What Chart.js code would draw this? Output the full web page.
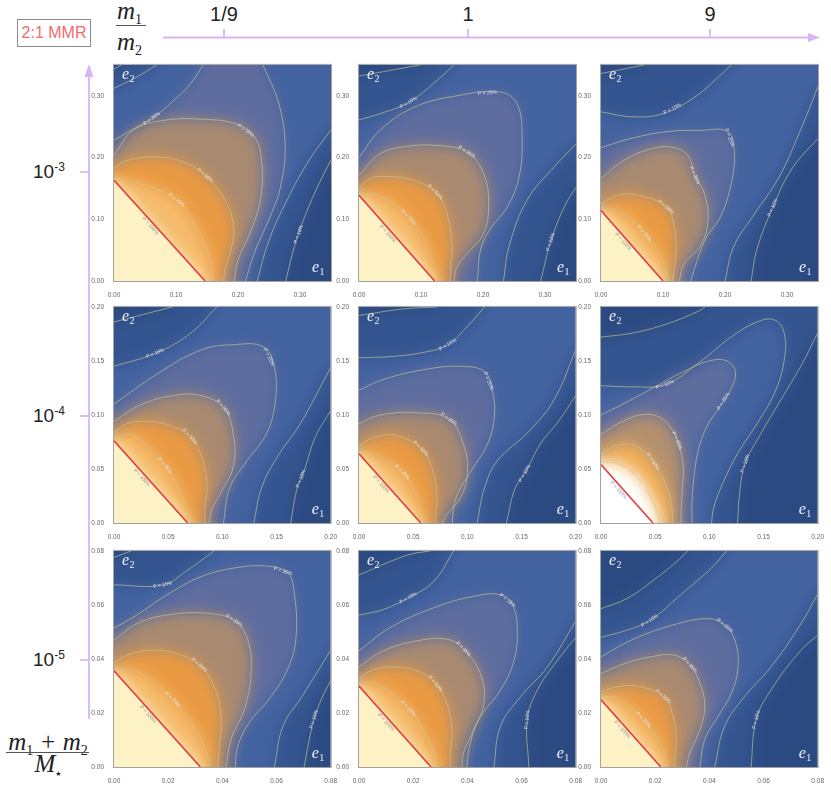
<!DOCTYPE html>
<html>
<head>
<meta charset="utf-8">
<title>2:1 MMR</title>
<script src="https://cdn.jsdelivr.net/npm/chart.js@4.4.1/dist/chart.umd.min.js"></script>
<style>
  body { margin:0; background:#fff; }
  #page { position:relative; width:831px; height:786px; overflow:hidden; font-family:"Liberation Sans", Arial, sans-serif; color:#222; }
  .pn { position:absolute; }
  .tx { position:absolute; white-space:nowrap; line-height:1; }
  .mi { font-family:"Liberation Serif", serif; font-style:italic; font-size:25px; }
  .sb { font-family:"Liberation Serif", serif; font-style:normal; font-size:14px; position:relative; top:5px; }
  .bar { position:absolute; height:1.3px; background:#555; }
  #mmr { position:absolute; left:17px; top:19px; width:72px; height:26px; border:1.5px solid #8c8c8c; color:#f26b6b; font-size:16px; line-height:26px; text-align:center; }
</style>
</head>
<body>
<div id="page">
  <div id="mmr">2:1 MMR</div>
  <svg width="831" height="786" style="position:absolute;left:0;top:0">
    <g stroke="#d9b4f6" stroke-width="1.8" fill="none">
      <line x1="163" y1="37.5" x2="810" y2="37.5"/>
      <line x1="224" y1="29" x2="224" y2="37.5"/>
      <line x1="468" y1="29" x2="468" y2="37.5"/>
      <line x1="710" y1="29" x2="710" y2="37.5"/>
      <line x1="89" y1="719" x2="89" y2="76"/>
      <line x1="80" y1="172" x2="89" y2="172"/>
      <line x1="80" y1="416" x2="89" y2="416"/>
      <line x1="80" y1="660" x2="89" y2="660"/>
    </g>
    <polygon points="820,37.5 808,33 808,42" fill="#d9b4f6"/>
    <polygon points="89,64 84.5,77 93.5,77" fill="#d9b4f6"/>
  </svg>

  <div class="tx mi" style="left:117px;top:-2px">m<span class="sb">1</span></div>
  <div class="bar" style="left:116px;top:25px;width:30px"></div>
  <div class="tx mi" style="left:117px;top:29px">m<span class="sb">2</span></div>

  <div class="tx mi" style="left:5px;top:729px;width:86px;text-align:center">m<span class="sb">1</span> + m<span class="sb">2</span></div>
  <div class="bar" style="left:6px;top:752px;width:83px"></div>
  <div class="tx mi" style="left:5px;top:751px;width:86px;text-align:center">M<span class="sb" style="font-family:'DejaVu Sans';font-size:7px;top:4px">★</span></div>
</div>

<script>
// ---------- values ----------
const ratioTicks = ['1/9', '1', '9'];
const massExp = ['-3', '-4', '-5'];
const axisMax = [0.35, 0.35, 0.35, 0.2, 0.2, 0.2, 0.08, 0.08, 0.08];
const ticks35 = [0, 0.1, 0.2, 0.3];
const ticks20 = [0, 0.05, 0.1, 0.15, 0.2];
const ticks08 = [0, 0.02, 0.04, 0.06, 0.08];
const levelNames = ['10%', '15%', '25%', '35%', '50%', '75%'];

// P = 100% boundary (red line), one per panel
const red = [
  [[0,.163],[.147,0]],
  [[0,.139],[.122,0]],
  [[0,.114],[.100,0]],
  [[0,.076],[.068,0]],
  [[0,.064],[.057,0]],
  [[0,.054],[.048,0]],
  [[0,.0356],[.0319,0]],
  [[0,.030],[.0266,0]],
  [[0,.0249],[.0221,0]]
];

const lvl75 = [
  [[0,.167],[.036,.160],[.101,.131],[.139,.077],[.155,.034],[.161,0]],
  [[0,.142],[.039,.136],[.080,.103],[.107,.063],[.122,.023],[.127,0]],
  [[0,.120],[.038,.109],[.070,.077],[.097,.039],[.107,.012],[.110,0]],
  [[0,.080],[.018,.081],[.047,.053],[.061,.030],[.068,.012],[.072,0]],
  [[0,.067],[.018,.062],[.040,.047],[.052,.028],[.058,.010],[.060,0]],
  [[0,.057],[.018,.054],[.034,.042],[.046,.024],[.052,.010],[.054,0]],
  [[0,.0366],[.0088,.0352],[.0217,.0250],[.0310,.0127],[.0346,.0041],[.0352,0]],
  [[0,.0311],[.0066,.0309],[.0182,.0217],[.0250,.0114],[.0282,.0040],[.0288,0]],
  [[0,.0261],[.0064,.0255],[.0156,.0175],[.0217,.0090],[.0242,.0028],[.0242,0]]
];

const lvl50 = [
  [[0,.183],[.020,.195],[.063,.201],[.112,.193],[.147,.171],[.176,.136],[.193,.088],[.187,.044],[.179,.018],[.177,0]],
  [[0,.149],[.018,.166],[.050,.169],[.088,.163],[.123,.144],[.142,.109],[.150,.055],[.148,.023],[.147,0]],
  [[0,.125],[.027,.139],[.060,.139],[.105,.120],[.118,.088],[.121,.044],[.117,.012],[.116,0]],
  [[0,.084],[.012,.092],[.033,.094],[.055,.089],[.070,.080],[.081,.061],[.086,.033],[.084,.015],[.084,0]],
  [[0,.071],[.013,.079],[.035,.081],[.057,.069],[.068,.049],[.072,.024],[.071,.009],[.071,0]],
  [[0,.064],[.012,.071],[.028,.073],[.040,.066],[.048,.057],[.058,.040],[.064,.022],[.066,.008],[.066,0]],
  [[0,.0385],[.0051,.0415],[.0125,.0431],[.0223,.0422],[.0315,.0378],[.0370,.0298],[.0395,.0188],[.0389,.0078],[.0383,0]],
  [[0,.0327],[.0053,.0360],[.0139,.0370],[.0226,.0351],[.0282,.0309],[.0325,.0235],[.0343,.0138],[.0337,.0053],[.0337,0]],
  [[0,.0279],[.0064,.0298],[.0138,.0298],[.0230,.0261],[.0266,.0187],[.0278,.0102],[.0272,.0028],[.0272,0]]
];

const lvl35 = [
  [[0,.204],[.031,.244],[.079,.260],[.144,.262],[.198,.254],[.227,.233],[.238,.195],[.236,.131],[.219,.077],[.200,.034],[.194,0]],
  [[0,.171],[.034,.206],[.077,.218],[.131,.219],[.174,.209],[.201,.174],[.209,.125],[.201,.077],[.174,.044],[.158,.023],[.153,0]],
  [[0,.166],[.038,.196],[.081,.214],[.113,.217],[.140,.203],[.151,.171],[.167,.141],[.172,.093],[.159,.055],[.134,.028],[.126,0]],
  [[0,.094],[.024,.109],[.055,.118],[.080,.118],[.101,.107],[.110,.083],[.110,.052],[.098,.027],[.090,.012],[.088,0]],
  [[0,.092],[.020,.100],[.054,.102],[.083,.096],[.097,.071],[.100,.046],[.094,.024],[.082,.009],[.077,0]],
  [[0,.082],[.016,.092],[.036,.100],[.054,.098],[.066,.086],[.072,.072],[.076,.052],[.075,.030],[.074,.012],[.074,0]],
  [[0,.0470],[.0088,.0532],[.0198,.0563],[.0346,.0569],[.0444,.0542],[.0494,.0470],[.0506,.0348],[.0481,.0213],[.0432,.0102],[.0414,0]],
  [[0,.0370],[.0090,.0430],[.0214,.0467],[.0325,.0473],[.0386,.0437],[.0448,.0345],[.0461,.0235],[.0423,.0138],[.0386,.0053],[.0380,0]],
  [[0,.0346],[.0088,.0383],[.0186,.0408],[.0272,.0414],[.0328,.0378],[.0365,.0310],[.0383,.0224],[.0365,.0138],[.0328,.0053],[.0315,0]]
];

const lvl25a = [
  [[0,.228],[.031,.246],[.061,.263],[.096,.292],[.123,.319],[.144,.35]],
  [[0,.200],[.034,.244],[.088,.281],[.158,.300],[.228,.306],[.255,.287],[.263,.233],[.258,.168],[.239,.120],[.210,.082],[.196,.050],[.191,0]],
  [[0,.216],[.049,.231],[.107,.242],[.161,.244],[.204,.242],[.215,.210],[.210,.158],[.193,.105],[.168,.067],[.151,.021],[.145,0]],
  [[0,.110],[.040,.138],[.080,.160],[.110,.165],[.138,.163],[.148,.144],[.149,.114],[.141,.083],[.123,.058],[.107,.033],[.101,0]],
  [[0,.123],[.023,.133],[.060,.142],[.094,.145],[.116,.140],[.123,.123],[.125,.099],[.119,.074],[.106,.052],[.094,.033],[.088,.018],[.086,0]],
  [[0,.100],[.024,.112],[.050,.126],[.076,.140],[.100,.150],[.116,.150],[.124,.140],[.120,.124],[.110,.108],[.098,.090],[.090,.068],[.086,.044],[.084,.020],[.084,0]],
  [[0,.0514],[.0080,.0560],[.0200,.0640],[.0320,.0704],[.0440,.0736],[.0560,.0744],[.0640,.0720],[.0664,.0656],[.0672,.0480],[.0640,.0360],[.0576,.0256],[.0496,.0160],[.0456,.0072],[.0448,0]],
  [[0,.0430],[.0115,.0516],[.0275,.0589],[.0423,.0632],[.0522,.0638],[.0566,.0602],[.0584,.0516],[.0572,.0394],[.0522,.0284],[.0448,.0186],[.0411,.0089],[.0398,0]],
  [[0,.0408],[.0113,.0470],[.0260,.0524],[.0395,.0549],[.0457,.0524],[.0494,.0470],[.0506,.0371],[.0481,.0273],[.0432,.0187],[.0383,.0102],[.0365,0]]
];
const lvl25b = [
  [[.212,0],[.228,.050],[.250,.100],[.268,.150],[.276,.220],[.265,.290],[.240,.35]],
  null, null, null, null, null, null, null, null
];

const lvl15a = [
  [[0,.312],[.036,.330],[.069,.35]],
  [[0,.261],[.034,.271],[.080,.289],[.126,.325],[.153,.35]],
  [[0,.274],[.050,.266],[.100,.271],[.150,.297],[.189,.330],[.210,.35]],
  [[0,.145],[.038,.157],[.070,.175],[.095,.20]],
  [[0,.153],[.029,.154],[.060,.158],[.082,.165],[.100,.182],[.116,.20]],
  [[0,.127],[.030,.126],[.059,.128],[.090,.148],[.120,.172],[.144,.186],[.160,.188],[.169,.176],[.169,.150],[.160,.120],[.144,.092],[.126,.064],[.112,.036],[.104,.014],[.102,0]],
  [[0,.0674],[.0180,.0674],[.0272,.0729],[.0370,.08]],
  [[0,.0562],[.0090,.0583],[.0182,.0626],[.0275,.0686],[.0350,.08]],
  [[0,.048],[.0088,.0504],[.018,.0542],[.0297,.064],[.0407,.0736],[.0464,.08]]
];
const lvl15b = [
  [[.231,0],[.249,.063],[.280,.133],[.315,.196],[.35,.245]],
  [[.233,0],[.242,.056],[.271,.131],[.314,.184],[.35,.222]],
  [[.200,0],[.214,.056],[.245,.105],[.287,.168],[.322,.245],[.35,.315]],
  [[.129,0],[.136,.032],[.150,.060],[.172,.092],[.20,.144]],
  [[.109,0],[.116,.033],[.128,.058],[.156,.084],[.180,.114],[.20,.160]],
  null,
  [[.0592,0],[.0624,.0152],[.0696,.0264],[.08,.0432]],
  [[.0498,0],[.0522,.0150],[.0596,.0260],[.0695,.0370],[.08,.054]],
  [[.042,0],[.0456,.015],[.053,.0261],[.0628,.0371],[.0738,.053],[.08,.064]]
];

const lvl10a = [
  [[0,.343],[.012,.35]],
  [[0,.332],[.050,.341],[.099,.35]],
  [[0,.336],[.070,.35]],
  [[0,.186],[.054,.20]],
  [[0,.192],[.040,.198],[.072,.20]],
  [[0,.172],[.030,.176],[.060,.184],[.090,.196],[.096,.20]],
  [[0,.0776],[.0064,.08]],
  [[0,.0711],[.0177,.0784],[.0263,.08]],
  [[0,.0586],[.0096,.0624],[.020,.0696],[.0288,.0768],[.032,.08]]
];
const lvl10b = [
  [[.277,0],[.291,.056],[.308,.105],[.329,.154],[.35,.196]],
  [[.293,0],[.309,.063],[.331,.120],[.35,.152]],
  [[.242,0],[.252,.053],[.277,.119],[.308,.182],[.35,.231]],
  [[.163,0],[.169,.032],[.176,.050],[.186,.080],[.20,.104]],
  [[.136,0],[.144,.032],[.153,.046],[.168,.074],[.184,.094],[.20,.118]],
  [[.126,0],[.128,.028],[.133,.055],[.146,.080],[.166,.114],[.186,.148],[.20,.176]],
  [[.0702,0],[.0720,.0096],[.0738,.0176],[.0768,.0256],[.08,.032]],
  [[.0627,0],[.0621,.0174],[.0658,.0284],[.0732,.0394],[.08,.048]],
  [[.0554,0],[.0573,.0175],[.0628,.0286],[.0738,.0432],[.08,.0488]]
];

// where each contour label sits (vertex index along the contour)
const lab10 = [1.4, 1, 2, 1.5, 2, 2, 2, 1, 1];
const lab15 = [null, 2, 2.3, 1, 3, 2, 1, 2, 2];
const lab25 = [2, 3.7, 4.3, 4.5, 4.5, 7.7, 5.8, 4.6, 4];
const lab35 = [4.5, 4, 5, 4, 3, 4.7, 4, 4, 4];
const lab50 = [4, 4, 3, 4, 3, 4, 4, 4, 3];
const lab75 = [2, 2, 2, 2, 2, 2.3, 2, 2, 2];

// ---------- styling ----------
const levelA = [lvl10a, lvl15a, lvl25a, lvl35, lvl50, lvl75];
const levelB = [lvl10b, lvl15b, lvl25b, null, null, null];
const labelAt = [lab10, lab15, lab25, lab35, lab50, lab75];
const bandColors = ['#33548e', '#4262a0', '#5f6d9e', '#a98a70', '#ea9a42', '#f5bb6c'];
const hotColors  = ['#33548e', '#4262a0', '#5f6d9e', '#b38f6e', '#f2b058', '#ffffff'];
const colX = [114, 359, 601];
const rowY = [64, 306, 550];
const AREA = 217;

const page = document.getElementById('page');

// top and left axis labels
ratioTicks.forEach((t, i) => {
  const d = document.createElement('div');
  d.className = 'tx';
  d.style.cssText = 'left:' + [224, 468, 710][i] + 'px;top:4px;font-size:20px;transform:translateX(-50%);color:#222';
  d.textContent = t;
  page.appendChild(d);
});
massExp.forEach((t, i) => {
  const d = document.createElement('div');
  d.className = 'tx';
  d.style.cssText = 'left:33px;top:' + ([172, 416, 660][i] - 10) + 'px;font-size:19px;color:#222';
  d.innerHTML = '10<span style="font-size:12px;position:relative;top:-7px">' + t + '</span>';
  page.appendChild(d);
});

function xy(list) { return list.map(p => ({x: p[0], y: p[1]})); }

function contourSet(list) {
  return {data: xy(list), borderColor: 'rgba(200,200,150,0.72)', borderWidth: 0.9,
          tension: 0.4, pointRadius: 0, fill: false};
}

// push a point sitting on the plot border out into the padding
function edgeOut(p, a, pad) {
  const t = 1.5;
  if (Math.abs(p.x - a.left) < t) return {x: a.left - pad, y: p.y};
  if (Math.abs(p.y - a.bottom) < t) return {x: p.x, y: a.bottom + pad};
  if (Math.abs(p.y - a.top) < t) return {x: p.x, y: a.top - pad};
  if (Math.abs(p.x - a.right) < t) return {x: a.right + pad, y: p.y};
  return {x: p.x, y: p.y};
}

// region P >= level, traced along the library's own line elements
function region(c, chart, ia, ib, pad) {
  const a = chart.chartArea;
  const la = chart.getDatasetMeta(ia).dataset;
  la.updateControlPoints(a);
  const pa = la.points;
  const s = edgeOut(pa[0], a, pad);
  c.moveTo(s.x, s.y);
  la.pathSegment(c, la.segments[0], {move: false});
  const e = edgeOut(pa[pa.length - 1], a, pad);
  c.lineTo(e.x, e.y);
  if (ib !== null) {
    const lb = chart.getDatasetMeta(ib).dataset;
    lb.updateControlPoints(a);
    const pb = lb.points;
    const be = pb[pb.length - 1];
    if (Math.abs(be.x - a.right) < 1.5) c.lineTo(a.right + pad, a.top - pad);
    const o = edgeOut(be, a, pad);
    c.lineTo(o.x, o.y);
    lb.pathSegment(c, lb.segments[0], {move: false, reverse: true});
    const o2 = edgeOut(pb[0], a, pad);
    c.lineTo(o2.x, o2.y);
  }
  c.lineTo(a.left - pad, a.bottom + pad);
  c.closePath();
}

function drawE(ctx, x, y, sub) {
  ctx.font = 'italic 16px "Liberation Serif"';
  ctx.fillText('e', x, y);
  const w = ctx.measureText('e').width;
  ctx.font = '10px "Liberation Serif"';
  ctx.fillText(sub, x + w + 0.5, y + 3);
}

const panelCfg = [];

const bandsPlugin = {
  id: 'bands',
  beforeDatasetsDraw(chart) {
    const cfg = panelCfg[+chart.canvas.dataset.idx];
    const ctx = chart.ctx, a = chart.chartArea;
    const pad = 26;
    const w = Math.ceil(a.right - a.left + 2 * pad), h = Math.ceil(a.bottom - a.top + 2 * pad);
    const off = document.createElement('canvas');
    off.width = w; off.height = h;
    const oc = off.getContext('2d');
    oc.translate(pad - a.left, pad - a.top);
    oc.fillStyle = cfg.base;
    oc.fillRect(a.left - pad, a.top - pad, w, h);
    cfg.bands.forEach(b => {
      oc.beginPath();
      region(oc, chart, b.ia, b.ib, pad);
      oc.fillStyle = b.color;
      oc.fill();
    });
    oc.beginPath();
    region(oc, chart, cfg.red, null, pad);
    oc.fillStyle = cfg.cream;
    oc.fill();

    ctx.save();
    ctx.beginPath();
    ctx.rect(a.left, a.top, a.right - a.left, a.bottom - a.top);
    ctx.clip();
    ctx.filter = 'blur(' + cfg.blur + 'px)';
    ctx.drawImage(off, a.left - pad, a.top - pad, w, h);
    ctx.filter = 'none';
    ctx.beginPath();
    region(ctx, chart, cfg.red, null, pad);
    ctx.fillStyle = cfg.cream;
    ctx.fill();
    ctx.restore();
  },
  afterDatasetsDraw(chart) {
    const cfg = panelCfg[+chart.canvas.dataset.idx];
    const ctx = chart.ctx, a = chart.chartArea;
    ctx.save();
    ctx.beginPath();
    ctx.rect(a.left, a.top, a.right - a.left, a.bottom - a.top);
    ctx.clip();
    ctx.font = '5px "Liberation Sans"';
    ctx.textAlign = 'center';
    ctx.textBaseline = 'middle';
    cfg.bands.forEach(b => {
      if (b.at === null || b.at === undefined) return;
      const pts = chart.getDatasetMeta(b.onB ? b.ib : b.ia).data;
      const k = Math.floor(b.at), f = b.at - k;
      const p0 = pts[k], p1 = pts[Math.min(k + 1, pts.length - 1)];
      const x = p0.x + (p1.x - p0.x) * f, y = p0.y + (p1.y - p0.y) * f;
      const q0 = f > 0 ? p0 : pts[Math.max(k - 1, 0)];
      let ang = Math.atan2(p1.y - q0.y, p1.x - q0.x);
      if (ang > Math.PI / 2) ang -= Math.PI;
      if (ang < -Math.PI / 2) ang += Math.PI;
      ctx.save();
      ctx.translate(x, y);
      ctx.rotate(ang);
      ctx.fillStyle = 'rgba(232,232,236,0.95)';
      ctx.fillText(b.text, 0, 0);
      ctx.restore();
    });
    // label inside the P = 100% region
    const rp = chart.getDatasetMeta(cfg.red).data;
    const ang = Math.atan2(rp[1].y - rp[0].y, rp[1].x - rp[0].x);
    const mx = rp[0].x + (rp[1].x - rp[0].x) * 0.48, my = rp[0].y + (rp[1].y - rp[0].y) * 0.48;
    ctx.translate(mx - Math.sin(ang) * 10, my - Math.cos(ang) * 10 + 4);
    ctx.rotate(ang);
    ctx.fillStyle = cfg.hot ? '#7d8db0' : '#8f8f8f';
    ctx.fillText('P = 100%', 0, 0);
    ctx.restore();
  },
  afterDraw(chart) {
    const ctx = chart.ctx, a = chart.chartArea;
    ctx.save();
    ctx.strokeStyle = '#a2a2a2';
    ctx.lineWidth = 1;
    ctx.strokeRect(a.left - 0.5, a.top - 0.5, a.right - a.left + 1, a.bottom - a.top + 1);
    ctx.fillStyle = 'rgba(255,255,255,0.93)';
    ctx.textAlign = 'left';
    ctx.textBaseline = 'alphabetic';
    drawE(ctx, a.left + 8, a.top + 14, '2');
    drawE(ctx, a.right - 19, a.bottom - 9, '1');
    ctx.restore();
  }
};
Chart.register(bandsPlugin);

for (let i = 0; i < 9; i++) {
  const hot = i === 5;
  const row = Math.floor(i / 3), col = i % 3;
  const tickSet = [ticks35, ticks20, ticks08][row];
  const datasets = [], bands = [];
  levelA.forEach((arrA, k) => {
    const ia = datasets.length;
    datasets.push(contourSet(arrA[i]));
    let ib = null;
    const bList = levelB[k] && levelB[k][i];
    if (bList) { ib = datasets.length; datasets.push(contourSet(bList)); }
    bands.push({ia: ia, ib: ib, color: (hot ? hotColors : bandColors)[k],
                text: 'P = ' + levelNames[k], at: labelAt[k][i], onB: k === 0 && ib !== null});
  });
  const ir = datasets.length;
  datasets.push({data: xy(red[i]), borderColor: '#e23c3c', borderWidth: 1.6, tension: 0,
                 pointRadius: 0, fill: false, order: -1});
  panelCfg.push({bands: bands, red: ir, base: '#2c4a82', cream: hot ? '#ffffff' : '#fdf1c6', blur: 7, hot: hot});

  const cv = document.createElement('canvas');
  cv.className = 'pn';
  cv.dataset.idx = i;
  cv.width = 30 + AREA + 8;
  cv.height = 5 + AREA + 16;
  cv.style.left = (colX[col] - 30) + 'px';
  cv.style.top = (rowY[row] - 5) + 'px';
  page.appendChild(cv);

  const axisOpts = {
    type: 'linear', min: 0, max: axisMax[i],
    grid: {display: false}, border: {display: false},
    ticks: {font: {size: 6.5, family: 'Liberation Sans'}, color: '#666', padding: 2,
            maxRotation: 0, autoSkip: false, callback: v => v.toFixed(2)},
    afterBuildTicks: s => { s.ticks = tickSet.map(v => ({value: v})); }
  };

  new Chart(cv, {
    type: 'line',
    data: {datasets: datasets},
    options: {
      responsive: false,
      animation: false,
      events: [],
      layout: {padding: {top: 5, right: 8, left: 0, bottom: 0}},
      plugins: {legend: {display: false}, tooltip: {enabled: false}},
      scales: {
        x: Object.assign({}, axisOpts, {afterFit: s => { s.height = 16; }}),
        y: Object.assign({}, axisOpts, {afterFit: s => { s.width = 30; }})
      }
    }
  });
}
</script>
</body>
</html>
